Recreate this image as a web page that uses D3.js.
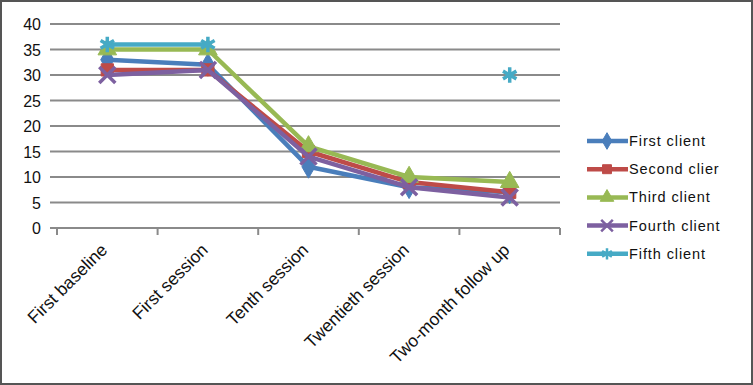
<!doctype html>
<html lang="en">
<head>
<meta charset="utf-8">
<title>Client scores</title>
<script src="https://cdn.jsdelivr.net/npm/d3@7"></script>
<style>
  body { margin: 0; background: #fff; }
  svg { display: block; font-family: "Liberation Sans", Arial, sans-serif; }
</style>
</head>
<body>
<svg></svg>
<script>
var categories = ["First baseline", "First session", "Tenth session", "Twentieth session", "Two-month follow up"];
var seriesNames = ["First client", "Second clier", "Third client", "Fourth client", "Fifth client"];
var firstClient = [33, 32, 12, 8, 7];
var secondClient = [31, 31, 15, 9, 7];
var thirdClient = [35, 35, 16, 10, 9];
var fourthClient = [30, 31, 14, 8, 6];
var fifthClient = [36, 36, null, null, 30];
var yTicks = [0, 5, 10, 15, 20, 25, 30, 35, 40];

var colors = ["#4a7ebb", "#be4b48", "#98b954", "#7d60a0", "#46aac5"];
var symbols = ["diamond", "square", "triangle", "x", "star"];
var allSeries = [firstClient, secondClient, thirdClient, fourthClient, fifthClient];

var width = 753, height = 385;
var svg = d3.select("svg").attr("width", width).attr("height", height);

svg.append("rect").attr("x", 1).attr("y", 1).attr("width", width - 2).attr("height", height - 2)
  .attr("fill", "#fff").attr("stroke", "#555").attr("stroke-width", 2);

var x = d3.scaleBand().domain(categories).range([57, 560]);
var y = d3.scaleLinear().domain([0, 40]).range([228, 24]);

// grid
svg.append("g").selectAll("line").data(yTicks).enter().append("line")
  .attr("x1", 50).attr("x2", 560)
  .attr("y1", function (d) { return y(d); }).attr("y2", function (d) { return y(d); })
  .attr("stroke", "#8a8a8a").attr("stroke-width", 2);

// y labels
svg.append("g").selectAll("text").data(yTicks).enter().append("text")
  .attr("x", 41).attr("y", function (d) { return y(d) + 6; })
  .attr("text-anchor", "end").attr("font-size", 16).attr("fill", "#111")
  .text(function (d) { return d; });

// x ticks
var xTickPos = categories.map(function (c) { return x(c); }).concat([560]);
svg.append("g").selectAll("line").data(xTickPos).enter().append("line")
  .attr("x1", function (d) { return d; }).attr("x2", function (d) { return d; })
  .attr("y1", 228).attr("y2", 235)
  .attr("stroke", "#8a8a8a").attr("stroke-width", 2);

// x labels
svg.append("g").selectAll("text").data(categories).enter().append("text")
  .attr("transform", function (d) {
    return "translate(" + (x(d) + x.bandwidth() / 2 + 1) + ",251) rotate(-45)";
  })
  .attr("text-anchor", "end").attr("font-size", 17.5).attr("fill", "#111")
  .text(function (d) { return d; });

if (!d3.symbolAsterisk) {
  d3.symbolAsterisk = {
    draw: function (ctx, size) {
      var r = Math.sqrt(size) * 0.6;
      for (var i = 0; i < 3; i++) {
        var a = Math.PI / 2 + i * Math.PI / 3;
        ctx.moveTo(-r * Math.cos(a), -r * Math.sin(a));
        ctx.lineTo(r * Math.cos(a), r * Math.sin(a));
      }
    }
  };
}
function markerPath(sym, size) {
  var map = { diamond: d3.symbolDiamond, square: d3.symbolSquare, triangle: d3.symbolTriangle, x: d3.symbolX, star: d3.symbolAsterisk };
  return d3.symbol().type(map[sym]).size(size)();
}

var line = d3.line()
  .defined(function (d) { return d != null; })
  .x(function (d, i) { return x(categories[i]) + x.bandwidth() / 2; })
  .y(function (d) { return y(d); });

allSeries.forEach(function (vals, s) {
  var g = svg.append("g");
  g.append("path").datum(vals).attr("d", line)
    .attr("fill", "none").attr("stroke", colors[s]).attr("stroke-width", 4.5)
    .attr("stroke-linejoin", "round");
  var open = symbols[s] === "x" || symbols[s] === "star";
  g.selectAll("path.m").data(vals.map(function (v, i) { return { v: v, i: i }; })
      .filter(function (d) { return d.v != null; }))
    .enter().append("path").attr("class", "m")
    .attr("transform", function (d) {
      return "translate(" + (x(categories[d.i]) + x.bandwidth() / 2) + "," + y(d.v) + ")";
    })
    .attr("d", markerPath(symbols[s], open ? 170 : 150))
    .attr("fill", open ? "none" : colors[s])
    .attr("stroke", colors[s]).attr("stroke-width", open ? 3.5 : 1);
});

// legend
var legend = svg.append("g");
seriesNames.forEach(function (name, s) {
  var ly = 141 + s * 28.2;
  legend.append("line").attr("x1", 587).attr("x2", 628).attr("y1", ly).attr("y2", ly)
    .attr("stroke", colors[s]).attr("stroke-width", 4.5);
  var open = symbols[s] === "x" || symbols[s] === "star";
  legend.append("path").attr("transform", "translate(607," + ly + ")")
    .attr("d", markerPath(symbols[s], open ? 90 : 80))
    .attr("fill", open ? "none" : colors[s])
    .attr("stroke", colors[s]).attr("stroke-width", open ? 2.5 : 1);
  legend.append("text").attr("x", 629).attr("y", ly + 5)
    .attr("font-size", 14.5).attr("letter-spacing", 0.9).attr("fill", "#111")
    .text(name);
});
</script>
</body>
</html>
